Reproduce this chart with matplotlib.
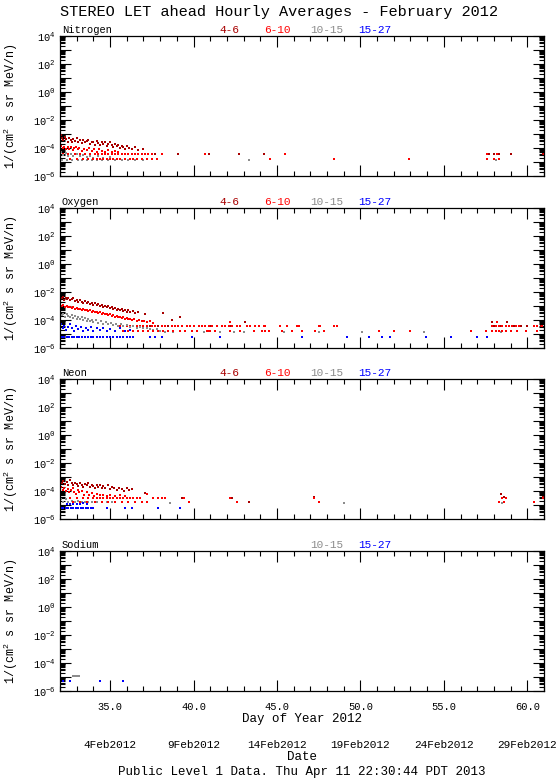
import numpy as np
import matplotlib
matplotlib.use("Agg")
import matplotlib.pyplot as plt
from matplotlib.ticker import MultipleLocator, LogLocator, FuncFormatter, NullFormatter
from matplotlib.transforms import blended_transform_factory

# ---------------- fonts ----------------
plt.rcParams['font.family'] = ['Liberation Mono', 'DejaVu Sans Mono']
plt.rcParams['mathtext.fontset'] = 'custom'
plt.rcParams['mathtext.rm'] = 'Liberation Mono'
plt.rcParams['mathtext.it'] = 'Liberation Mono'

# ---------------- data (day of year, log10 flux) ----------------
channels = ["4-6", "6-10", "10-15", "15-27"]
colors = ["#a80000", "#ff0000", "#8c8c8c", "#0000ff"]

# Nitrogen
n46 = [(32.05, -3.1), (32.12, -3.25), (32.2, -3.45), (32.28, -3.2), (32.36, -3.35), (32.45, -3.55),
       (32.55, -3.3), (32.63, -3.45), (32.72, -3.6), (32.8, -3.35), (32.9, -3.5), (33.0, -3.3),
       (33.1, -3.55), (33.2, -3.4), (33.3, -3.65), (33.4, -3.45), (33.5, -3.6), (33.6, -3.5),
       (33.7, -3.4), (33.8, -3.7), (33.9, -3.55), (34.0, -3.6), (34.1, -3.75), (34.2, -3.5),
       (34.3, -3.65), (34.4, -3.8), (34.5, -3.6), (34.6, -3.7), (34.7, -3.55), (34.8, -3.85),
       (34.9, -3.7), (35.0, -3.6), (35.1, -3.8), (35.2, -3.9), (35.3, -3.7), (35.4, -3.85),
       (35.5, -3.75), (35.6, -4.0), (35.7, -3.85), (35.8, -3.9), (35.9, -4.05), (36.0, -3.85),
       (36.15, -4.0), (36.3, -4.1), (36.5, -3.95), (36.7, -4.15), (37.0, -4.1), (37.7, -4.45),
       (39.1, -4.45), (40.9, -4.45), (42.7, -4.45), (44.2, -4.45), (57.7, -4.45), (58.0, -4.45),
       (58.3, -4.45), (59.0, -4.45), (60.95, -4.45)]
n610 = [(32.05, -3.85), (32.15, -4.0), (32.25, -3.9), (32.35, -4.1), (32.45, -3.95), (32.55, -4.05),
        (32.65, -3.9), (32.75, -4.15), (32.85, -4.0), (32.95, -3.95), (33.05, -4.1), (33.15, -4.0),
        (33.3, -4.2), (33.45, -4.05), (33.6, -4.15), (33.75, -4.0), (33.9, -4.2), (34.05, -4.1),
        (34.2, -4.25), (34.35, -4.1), (34.5, -4.2), (34.7, -4.3), (34.9, -4.15), (35.1, -4.3),
        (35.3, -4.2), (35.5, -4.3)]
n610_row1_day = [32.2, 32.5, 32.9, 33.2, 33.5, 33.8, 34.1, 34.3, 34.5, 34.7, 34.9, 35.1, 35.3, 35.5,
                 35.7, 35.9, 36.1, 36.3, 36.5, 36.7, 36.9, 37.1, 37.3, 37.5, 38.1, 40.7, 45.5,
                 57.6, 58.2, 61.0]
n610_row1_lg = -4.45
n610_row2_day = [32.6, 33.0, 33.4, 33.7, 34.0, 34.2, 34.4, 34.6, 34.8, 35.0, 35.2, 35.4, 35.6, 35.9,
                 36.2, 36.4, 36.6, 36.9, 37.2, 37.5, 37.8, 44.6, 48.4, 52.9, 57.6, 58.0, 58.3]
n610_row2_lg = -4.8
n1015 = [(32.05, -4.3), (32.2, -4.5), (32.35, -4.35), (32.5, -4.6), (32.65, -4.4), (32.8, -4.55),
         (33.0, -4.45), (33.2, -4.6), (33.4, -4.5), (33.6, -4.65), (33.8, -4.55), (34.0, -4.7),
         (34.3, -4.6), (34.6, -4.7), (35.0, -4.65)]
n1015_row_day = [32.1, 32.4, 32.7, 33.1, 33.3, 33.6, 33.9, 34.2, 34.5, 34.9, 35.3, 35.7, 36.1,
                 36.5, 37.0, 43.3, 58.1]
n1015_row_lg = -4.88
n1527 = []

# Oxygen
o46 = [(32.02, -2.3), (32.1, -2.45), (32.18, -2.35), (32.26, -2.55), (32.34, -2.4), (32.42, -2.5),
       (32.5, -2.42), (32.6, -2.6), (32.7, -2.5), (32.8, -2.45), (32.9, -2.62), (33.0, -2.55),
       (33.1, -2.7), (33.2, -2.6), (33.3, -2.68), (33.4, -2.75), (33.5, -2.65), (33.6, -2.8),
       (33.7, -2.72), (33.8, -2.85), (33.9, -2.78), (34.0, -2.9), (34.1, -2.82), (34.2, -2.95),
       (34.3, -2.88), (34.4, -3.0), (34.5, -2.92), (34.6, -3.05), (34.7, -2.98), (34.8, -3.1),
       (34.9, -3.02), (35.0, -3.15), (35.1, -3.08), (35.2, -3.2), (35.3, -3.12), (35.4, -3.25),
       (35.5, -3.18), (35.6, -3.3), (35.7, -3.22), (35.8, -3.35), (35.9, -3.28), (36.0, -3.4),
       (36.1, -3.32), (36.2, -3.45), (36.35, -3.38), (36.5, -3.5), (36.7, -3.45), (37.1, -3.6),
       (38.2, -3.5), (38.7, -4.0), (39.2, -3.8), (43.1, -4.12), (57.9, -4.12), (58.8, -4.12),
       (37.4, -4.43), (37.9, -4.43), (38.5, -4.43), (41.0, -4.43), (42.2, -4.43), (58.0, -4.43),
       (58.4, -4.43), (59.2, -4.43), (59.6, -4.43), (60.0, -4.43), (60.8, -4.43)]
o610 = [(32.02, -2.9), (32.1, -3.0), (32.2, -2.95), (32.3, -3.05), (32.4, -3.0), (32.5, -3.1),
        (32.6, -3.05), (32.7, -3.15), (32.8, -3.1), (32.9, -3.2), (33.0, -3.12), (33.1, -3.22),
        (33.2, -3.18), (33.3, -3.28), (33.4, -3.2), (33.5, -3.3), (33.6, -3.25), (33.7, -3.35),
        (33.8, -3.3), (33.9, -3.4), (34.0, -3.35), (34.1, -3.45), (34.2, -3.4), (34.3, -3.5),
        (34.4, -3.45), (34.5, -3.55), (34.6, -3.5), (34.7, -3.6), (34.8, -3.55), (34.9, -3.65),
        (35.0, -3.6), (35.1, -3.7), (35.2, -3.65), (35.3, -3.75), (35.4, -3.7), (35.5, -3.8),
        (35.6, -3.75), (35.7, -3.85), (35.8, -3.8), (35.9, -3.9), (36.0, -3.85), (36.1, -3.95),
        (36.2, -3.9), (36.3, -4.0), (36.45, -3.95), (36.6, -4.05), (36.75, -4.0), (36.9, -4.1),
        (37.05, -4.05), (37.2, -4.15), (37.4, -4.1), (37.6, -4.2), (42.2, -4.12), (58.2, -4.12)]
o610_row1_day = [35.6, 35.8, 36.0, 36.2, 36.4, 36.6, 36.8, 37.0, 37.2, 37.5, 37.7, 38.1, 38.3,
                 38.7, 38.9, 39.1, 39.3, 39.6, 39.8, 40.0, 40.3, 40.5, 40.7, 40.9, 41.1, 41.4,
                 41.7, 41.9, 42.1, 42.3, 42.6, 42.8, 43.2, 43.4, 43.7, 43.9, 44.2, 44.3, 45.2,
                 45.6, 46.2, 46.3, 47.5, 47.6, 48.4, 48.6, 57.9, 58.1, 58.3, 58.5, 58.7, 58.9,
                 59.1, 59.3, 59.5, 60.4, 60.6, 60.9]
o610_row1_lg = -4.43
o610_row2_day = [35.8, 36.1, 36.4, 36.7, 37.0, 37.3, 37.6, 37.9, 38.2, 38.5, 38.8, 39.2, 39.5,
                 39.9, 40.2, 40.8, 40.9, 41.0, 41.3, 42.2, 42.8, 43.6, 44.1, 44.3, 44.5, 45.3,
                 45.9, 46.5, 47.3, 47.8, 51.1, 52.0, 53.0, 56.6, 57.5, 57.9, 58.1, 58.3, 58.5,
                 58.7, 59.0, 59.4, 59.9, 60.6]
o610_row2_lg = -4.76
o1015 = [(32.02, -3.5), (32.1, -3.65), (32.2, -3.55), (32.3, -3.75), (32.4, -3.6), (32.5, -3.7),
         (32.6, -3.8), (32.7, -3.65), (32.8, -3.85), (32.9, -3.72), (33.0, -3.9), (33.1, -3.78),
         (33.2, -3.95), (33.3, -3.82), (33.4, -4.0), (33.5, -3.88), (33.6, -4.05), (33.7, -3.92),
         (33.8, -4.1), (33.9, -3.98), (34.0, -4.12), (34.15, -4.02), (34.3, -4.2), (34.45, -4.08),
         (34.6, -4.25), (34.75, -4.15), (34.9, -4.3), (35.05, -4.2), (35.2, -4.35), (35.35, -4.25),
         (35.5, -4.4), (35.65, -4.3), (35.8, -4.45), (36.0, -4.38), (36.2, -4.5), (36.4, -4.42),
         (36.6, -4.55), (36.8, -4.5), (37.0, -4.6), (37.2, -4.55), (37.4, -4.65), (37.6, -4.7),
         (37.8, -4.65), (38.0, -4.75)]
o1015_row_day = [38.3, 38.8, 40.6, 41.6, 42.4, 43.0, 45.4, 47.5, 50.1, 53.8, 58.4]
o1015_row_lg = -4.83
o1527 = [(32.05, -4.3), (32.15, -4.55), (32.25, -4.4), (32.35, -4.7), (32.45, -4.5), (32.6, -4.25),
         (32.7, -4.6), (32.85, -4.75), (32.95, -4.45), (33.1, -4.65), (33.25, -4.5), (33.4, -4.75),
         (33.55, -4.6), (33.7, -4.7), (33.85, -4.5), (34.0, -4.75), (34.2, -4.6), (34.4, -4.7),
         (34.6, -4.55), (34.8, -4.75), (35.0, -4.65), (35.3, -4.75), (35.6, -4.6), (35.9, -4.75),
         (36.2, -4.7)]
o1527_row_day = [32.1, 32.25, 32.4, 32.55, 32.7, 32.85, 33.0, 33.15, 33.3, 33.5, 33.7, 33.85,
                 34.0, 34.2, 34.4, 34.6, 34.8, 35.0, 35.2, 35.4, 35.6, 35.8, 36.0, 36.2, 36.4,
                 37.4, 37.7, 38.1, 39.9, 41.6, 46.5, 49.2, 50.5, 51.3, 51.8, 53.9, 55.4, 57.0, 57.6]
o1527_row_lg = -5.24

# Neon
ne46 = [(32.02, -3.25), (32.1, -3.4), (32.2, -3.3), (32.3, -3.5), (32.4, -3.35), (32.5, -3.55),
        (32.6, -3.2), (32.7, -3.45), (32.8, -3.6), (32.9, -3.4), (33.0, -3.5), (33.1, -3.65),
        (33.2, -3.45), (33.3, -3.55), (33.4, -3.7), (33.5, -3.5), (33.6, -3.6), (33.7, -3.45),
        (33.8, -3.7), (33.9, -3.55), (34.0, -3.65), (34.1, -3.75), (34.2, -3.6), (34.3, -3.7),
        (34.4, -3.55), (34.5, -3.8), (34.6, -3.65), (34.7, -3.75), (34.85, -3.6), (35.0, -3.85),
        (35.1, -3.7), (35.25, -3.8), (35.4, -3.9), (35.55, -3.75), (35.7, -3.85), (35.85, -4.0),
        (36.0, -3.8), (36.15, -3.95), (36.3, -3.85), (37.1, -4.14), (39.3, -4.48), (42.3, -4.48),
        (43.3, -4.76), (47.2, -4.45), (58.4, -4.2), (58.6, -4.45), (60.95, -4.45)]
ne610 = [(32.05, -3.7), (32.15, -3.9), (32.25, -3.8), (32.35, -4.0), (32.45, -3.85), (32.55, -4.1),
         (32.65, -3.95), (32.75, -3.8), (32.85, -4.05), (32.95, -4.2), (33.05, -3.95), (33.15, -4.1),
         (33.3, -4.0), (33.45, -4.25), (33.6, -4.1), (33.75, -4.3), (33.9, -4.15), (34.05, -4.35),
         (34.2, -4.2), (34.4, -4.3), (34.6, -4.25), (34.8, -4.35), (35.0, -4.3), (35.3, -4.35),
         (35.6, -4.3), (35.9, -4.35), (37.2, -4.2)]
ne610_row1_day = [32.6, 33.0, 33.4, 33.7, 34.0, 34.2, 34.4, 34.6, 34.8, 35.0, 35.2, 35.4, 35.6,
                  35.8, 36.0, 36.2, 36.4, 36.6, 36.8, 37.6, 37.9, 38.1, 38.3, 39.4, 42.2, 47.2,
                  58.5, 58.7, 60.95]
ne610_row1_lg = -4.5
ne610_row2_day = [32.8, 33.2, 33.6, 34.1, 34.5, 34.9, 35.3, 35.7, 36.1, 36.5, 36.9, 37.2, 39.7,
                  42.6, 47.5, 58.3, 58.6, 60.4]
ne610_row2_lg = -4.78
ne1015 = [(32.05, -4.55), (32.2, -4.75), (32.35, -4.6), (32.5, -4.8), (32.7, -4.7), (32.9, -4.78),
          (33.1, -4.72), (33.3, -4.8), (33.5, -4.75), (33.7, -4.78), (33.9, -4.75), (34.2, -4.8),
          (34.5, -4.76), (34.8, -4.8), (35.1, -4.78), (38.6, -4.85), (49.0, -4.85), (58.5, -4.85)]
ne1527 = [(32.4, -4.93), (32.6, -4.9), (32.8, -4.95), (33.0, -4.9), (33.2, -4.93), (33.4, -4.88),
          (33.6, -4.93)]
ne1527_row_day = [32.05, 32.2, 32.35, 32.5, 32.65, 32.8, 32.95, 33.1, 33.25, 33.4, 33.55, 33.7,
                  33.85, 34.0, 34.8, 35.9, 36.3, 37.9, 39.2]
ne1527_row_lg = -5.22

# Sodium
na1015 = [(32.75, -4.93), (32.85, -4.93), (32.95, -4.93), (33.05, -4.93), (33.15, -4.93)]
na1527 = [(32.2, -5.3), (32.6, -5.3), (34.4, -5.3), (35.8, -5.3)]

elements = ["Nitrogen", "Oxygen", "Neon", "Sodium"]
date_days = [35, 40, 45, 50, 55, 60]
date_labels = ["4Feb2012", "9Feb2012", "14Feb2012", "19Feb2012", "24Feb2012", "29Feb2012"]


def pts(pairs, row_days=(), row_lg=None):
    d = [p[0] for p in pairs] + list(row_days)
    v = [p[1] for p in pairs] + [row_lg] * len(row_days)
    return np.array(d), 10.0 ** np.array(v, dtype=float)


panels = [
    [pts(n46), pts(n610, n610_row1_day, n610_row1_lg), pts(n1015, n1015_row_day, n1015_row_lg), pts(n1527)],
    [pts(o46), pts(o610, o610_row1_day, o610_row1_lg), pts(o1015, o1015_row_day, o1015_row_lg),
     pts(o1527, o1527_row_day, o1527_row_lg)],
    [pts(ne46), pts(ne610, ne610_row1_day, ne610_row1_lg), pts(ne1015),
     pts(ne1527, ne1527_row_day, ne1527_row_lg)],
    [None, None, pts(na1015), pts(na1527)],
]
extra = {0: [(1, pts([], n610_row2_day, n610_row2_lg))],
         1: [(1, pts([], o610_row2_day, o610_row2_lg))],
         2: [(1, pts([], ne610_row2_day, ne610_row2_lg))]}

# ---------------- figure ----------------
W, H = 560, 780
fig = plt.figure(figsize=(W / 100, H / 100), dpi=100)

tops = [36, 208, 379, 551]
ph = 140
ax_left, ax_right = 60, 544
label_x = [219, 264, 310, 358]


def ylab(v, pos):
    e = int(round(np.log10(v)))
    if e % 2 == 0:
        return r"$10^{%d}$" % e
    return ""


axes = []
for i, name in enumerate(elements):
    bottom = 1 - (tops[i] + ph) / H
    ax = fig.add_axes([ax_left / W, bottom, (ax_right - ax_left) / W, ph / H])
    axes.append(ax)
    ax.set_yscale("log")
    ax.set_xlim(32, 61)
    ax.set_ylim(1e-6, 1e4)

    for c in range(4):
        series = panels[i][c]
        if series is None or len(series[0]) == 0:
            continue
        ax.plot(series[0], series[1], ls="none", marker="s", ms=1.8, mew=0, color=colors[c])
    for c, series in extra.get(i, []):
        ax.plot(series[0], series[1], ls="none", marker="s", ms=1.8, mew=0, color=colors[c])

    ax.xaxis.set_major_locator(MultipleLocator(5))
    ax.xaxis.set_minor_locator(MultipleLocator(1))
    ax.yaxis.set_major_locator(LogLocator(base=10, numticks=20))
    ax.yaxis.set_minor_locator(LogLocator(base=10, subs=np.arange(2, 10), numticks=20))
    ax.yaxis.set_major_formatter(FuncFormatter(ylab))
    ax.yaxis.set_minor_formatter(NullFormatter())
    ax.tick_params(which="both", direction="in", top=True, right=True, width=0.8, labelsize=7.5)
    ax.tick_params(which="major", length=8)
    ax.tick_params(which="minor", length=3.5)
    ax.tick_params(axis="y", pad=3)
    ax.tick_params(axis="x", pad=8)
    for s in ax.spines.values():
        s.set_linewidth(0.9)

    if i < 3:
        ax.xaxis.set_major_formatter(NullFormatter())
    else:
        ax.xaxis.set_major_formatter(FuncFormatter(lambda v, p: "%.1f" % v))

    ax.set_ylabel(r"1/(cm$^2$ s sr MeV/n)", fontsize=8.5)
    ax.yaxis.set_label_coords(-0.082, 0.5)

    ax.text(0.004, 1.01, name, transform=ax.transAxes, fontsize=7.5, ha="left", va="bottom")
    first = 2 if i == 3 else 0
    for c in range(first, 4):
        ax.text((label_x[c] - ax_left) / (ax_right - ax_left), 1.01, channels[c],
                transform=ax.transAxes, fontsize=8, ha="left", va="bottom", color=colors[c])

fig.text(60 / W, 1 - 12 / H, "STEREO LET ahead Hourly Averages - February 2012",
         ha="left", va="center", fontsize=11)

center_x = (ax_left + ax_right) / 2 / W
fig.text(center_x, 1 - 719 / H, "Day of Year 2012", ha="center", va="center", fontsize=9)
tr = blended_transform_factory(axes[3].transData, fig.transFigure)
for d, lab in zip(date_days, date_labels):
    axes[3].text(d, 1 - 745 / H, lab, transform=tr, ha="center", va="center", fontsize=8)
fig.text(center_x, 1 - 757 / H, "Date", ha="center", va="center", fontsize=9)
fig.text(center_x, 1 - 772 / H, "Public Level 1 Data. Thu Apr 11 22:30:44 PDT 2013",
         ha="center", va="center", fontsize=9)

fig.savefig("out.png", dpi=100)
